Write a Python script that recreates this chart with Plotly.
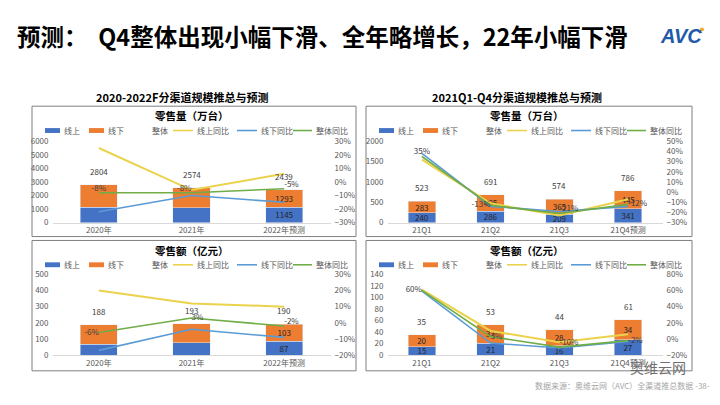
import plotly.graph_objects as go

# ---------------- data ----------------
years = ["2020年", "2021年", "2022年预测"]
quarters = ["21Q1", "21Q2", "21Q3", "21Q4预测"]

vol_year_online = [1150, 1080, 1145]
vol_year_offline = [1654, 1494, 1293]
vol_year_total = [2804, 2574, 2439]
vol_year_online_yoy = [25, -6, 6]
vol_year_offline_yoy = [-22, -10, -15]
vol_year_total_yoy = [-8, -8, -5]

vol_q_online = [240, 286, 209, 341]
vol_q_offline = [283, 405, 365, 445]
vol_q_total = [523, 691, 574, 786]
vol_q_online_yoy = [32, -11, -23, -7]
vol_q_offline_yoy = [38, -14, -19, -14]
vol_q_total_yoy = [35, -13, -21, -12]

amt_year_online = [69, 77, 87]
amt_year_offline = [119, 116, 103]
amt_year_total = [188, 193, 190]
amt_year_online_yoy = [20, 12, 10]
amt_year_offline_yoy = [-17, -4, -9]
amt_year_total_yoy = [-6, 3, -2]

amt_q_online = [15, 21, 16, 27]
amt_q_offline = [20, 32, 28, 34]
amt_q_total = [35, 53, 44, 61]
amt_q_online_yoy = [61, 10, -4, 6]
amt_q_offline_yoy = [59, -5, -11, -3]
amt_q_total_yoy = [60, 3, -10, -2]

series_names = ["线上", "线下", "整体", "线上同比", "线下同比", "整体同比"]

# ---------------- style ----------------
W, H = 720, 405
FONT = "Noto Sans CJK SC"
C_ON = "#4472C4"
C_OFF = "#ED7D31"
C_ON_YOY = "#EBD24B"
C_OFF_YOY = "#5B9BD5"
C_TOT_YOY = "#70AD47"
C_TXT = "#595959"


def px(x):
    return x / W


def py(y):
    return 1 - y / H


fig = go.Figure()
shapes = []
annotations = []


def note(x, y, text, font, xanchor="center", yanchor="middle", **kw):
    annotations.append(dict(x=px(x), y=py(y), xref="paper", yref="paper", text=text,
                            showarrow=False, xanchor=xanchor, yanchor=yanchor, font=font, **kw))


panels = [
    dict(cats=years, on=vol_year_online, off=vol_year_offline, tot=vol_year_total,
         on_yoy=vol_year_online_yoy, off_yoy=vol_year_offline_yoy, tot_yoy=vol_year_total_yoy,
         bar_lbl=[False, False, True], yoy_pos=["top center", "top left", "top right"],
         lrange=[0, 6000], ldt=1000, rrange=[-30, 30], rdt=10,
         box=(32, 103, 356, 237), plot=(52.5, 139, 330.5, 222.7), title="零售量（万台）"),
    dict(cats=quarters, on=vol_q_online, off=vol_q_offline, tot=vol_q_total,
         on_yoy=vol_q_online_yoy, off_yoy=vol_q_offline_yoy, tot_yoy=vol_q_total_yoy,
         bar_lbl=[True, True, True, True], yoy_pos=["top center", "middle left", "top right", "middle right"],
         lrange=[0, 2000], ldt=500, rrange=[-30, 50], rdt=10,
         box=(366, 103, 692, 237), plot=(387.5, 139, 662.5, 222.7), title="零售量（万台）"),
    dict(cats=years, on=amt_year_online, off=amt_year_offline, tot=amt_year_total,
         on_yoy=amt_year_online_yoy, off_yoy=amt_year_offline_yoy, tot_yoy=amt_year_total_yoy,
         bar_lbl=[False, False, True], yoy_pos=["middle left", "middle right", "top right"],
         lrange=[0, 500], ldt=100, rrange=[-20, 30], rdt=10,
         box=(32, 241, 356, 375), plot=(52.5, 275.7, 330.5, 359), title="零售额（亿元）"),
    dict(cats=quarters, on=amt_q_online, off=amt_q_offline, tot=amt_q_total,
         on_yoy=amt_q_online_yoy, off_yoy=amt_q_offline_yoy, tot_yoy=amt_q_total_yoy,
         bar_lbl=[True, True, True, True], yoy_pos=["middle left", "middle right", "top right", "middle right"],
         lrange=[0, 140], ldt=20, rrange=[-20, 80], rdt=20,
         box=(366, 241, 692, 375), plot=(387.5, 275.7, 662.5, 359), title="零售额（亿元）"),
]

layout_axes = {}
for i, p in enumerate(panels):
    n = i + 1
    xname = "x" if n == 1 else f"x{n}"
    yl = "y" if n == 1 else f"y{2 * n - 1}"
    yr = f"y{2 * n}"
    x0, y0, x1, y1 = p["plot"]
    xdom = [px(x0), px(x1)]
    ydom = [py(y1), py(y0)]

    def lbls(vals, mask):
        return [str(v) if m else "" for v, m in zip(vals, mask)]

    barfont = dict(size=8, color="#262626", family=FONT)
    fig.add_trace(go.Bar(x=p["cats"], y=p["on"], name="线上", marker_color=C_ON,
                         xaxis=xname, yaxis=yl, showlegend=False,
                         text=lbls(p["on"], p["bar_lbl"]), textposition="inside", textangle=0,
                         insidetextanchor="middle", constraintext="none", textfont=barfont))
    fig.add_trace(go.Bar(x=p["cats"], y=p["off"], name="线下", marker_color=C_OFF,
                         xaxis=xname, yaxis=yl, showlegend=False,
                         text=lbls(p["off"], p["bar_lbl"]), textposition="inside", textangle=0,
                         insidetextanchor="middle", constraintext="none", textfont=barfont))
    # totals (整体) as labels above the stacks
    for c, v in zip(p["cats"], p["tot"]):
        annotations.append(dict(x=c, y=v, xref=xname, yref=yl, text=str(v), showarrow=False,
                                xanchor="center", yanchor="bottom", yshift=6,
                                font=dict(size=8, color="#404040", family=FONT)))
    fig.add_trace(go.Scatter(x=p["cats"], y=p["on_yoy"], name="线上同比", mode="lines",
                             line=dict(color=C_ON_YOY, width=2), xaxis=xname, yaxis=yr, showlegend=False))
    fig.add_trace(go.Scatter(x=p["cats"], y=p["off_yoy"], name="线下同比", mode="lines",
                             line=dict(color=C_OFF_YOY, width=1.6), xaxis=xname, yaxis=yr, showlegend=False))
    fig.add_trace(go.Scatter(x=p["cats"], y=p["tot_yoy"], name="整体同比", mode="lines+text",
                             line=dict(color=C_TOT_YOY, width=1.6), xaxis=xname, yaxis=yr, showlegend=False,
                             text=[f"{v}%" for v in p["tot_yoy"]], textposition=p["yoy_pos"],
                             textfont=dict(size=8, color="#404040", family=FONT)))

    tickfont = dict(size=8, color=C_TXT, family=FONT)
    layout_axes["xaxis" if n == 1 else f"xaxis{n}"] = dict(
        domain=xdom, anchor=yl, type="category", showline=True, linecolor="#D9D9D9",
        linewidth=1, ticks="", tickfont=tickfont, showgrid=False, fixedrange=True)
    layout_axes["yaxis" if n == 1 else f"yaxis{2 * n - 1}"] = dict(
        domain=ydom, anchor=xname, range=p["lrange"], dtick=p["ldt"], showgrid=False,
        zeroline=False, tickfont=tickfont, ticks="", ticklabelstandoff=3)
    layout_axes[f"yaxis{2 * n}"] = dict(
        domain=ydom, anchor=xname, overlaying=yl, side="right", range=p["rrange"],
        dtick=p["rdt"], ticksuffix="%", showgrid=False, zeroline=False, tickfont=tickfont,
        ticks="", ticklabelstandoff=3)

    # panel frame
    bx0, by0, bx1, by1 = p["box"]
    shapes.append(dict(type="rect", xref="paper", yref="paper", x0=px(bx0), x1=px(bx1),
                       y0=py(by1), y1=py(by0), line=dict(color="#7F7F7F", width=1)))
    # chart title
    note((bx0 + bx1) / 2 - 2, by0 + 10, p["title"],
         dict(size=10.5, color="#000000", family=FONT, weight="bold"))
    # custom legend
    ly = by0 + 25
    lfont = dict(size=8, color=C_TXT, family=FONT)
    for (s0, s1), col in [((13, 28), C_ON), ((57, 72), C_OFF)]:
        shapes.append(dict(type="rect", xref="paper", yref="paper", x0=px(bx0 + s0), x1=px(bx0 + s1),
                           y0=py(ly + 2.5), y1=py(ly - 2.5), line=dict(width=0), fillcolor=col))
    for (s0, s1), col in [((141, 161), C_ON_YOY), ((205, 225), C_OFF_YOY), ((261, 280), C_TOT_YOY)]:
        shapes.append(dict(type="line", xref="paper", yref="paper", x0=px(bx0 + s0), x1=px(bx0 + s1),
                           y0=py(ly), y1=py(ly), line=dict(color=col, width=1.6)))
    for name, tx in zip(series_names, [30, 74, 118, 163, 227, 282]):
        note(bx0 + tx, ly, name, lfont, xanchor="left")

# section subtitles
note(182, 94, "2020-2022F分渠道规模推总与预测", dict(size=11, color="#000000", family=FONT, weight="bold"))
note(517, 94, "2021Q1-Q4分渠道规模推总与预测", dict(size=11, color="#000000", family=FONT, weight="bold"))
# main title
note(15, 31, "预测：  Q4整体出现小幅下滑、全年略增长，22年小幅下滑",
     dict(size=23.5, color="#000000", family=FONT, weight="bold"), xanchor="left")
# logo
note(681, 31, "<b><i>AVC</i></b>", dict(size=20, color="#1F5BAA", family="Liberation Sans"))
shapes.append(dict(type="circle", xref="paper", yref="paper", x0=px(700), x1=px(704),
                   y0=py(26), y1=py(22), line=dict(width=0), fillcolor="#F5A623"))
# footer
note(712, 390, "数据来源：奥维云网（AVC）全渠道推总数据 -38-", dict(size=8, color="#A6A6A6", family=FONT),
     xanchor="right")
note(658, 371, "奥维云网", dict(size=14, color="#6E6E6E", family=FONT))

fig.update_layout(
    width=W, height=H, margin=dict(l=0, r=0, t=0, b=0),
    paper_bgcolor="white", plot_bgcolor="white",
    barmode="stack", bargap=0.6, showlegend=False,
    font=dict(family=FONT, size=8, color=C_TXT),
    shapes=shapes, annotations=annotations, **layout_axes,
)

fig.write_html("out.html", config={"displayModeBar": False},
               post_script="document.body.style.margin='0';")
